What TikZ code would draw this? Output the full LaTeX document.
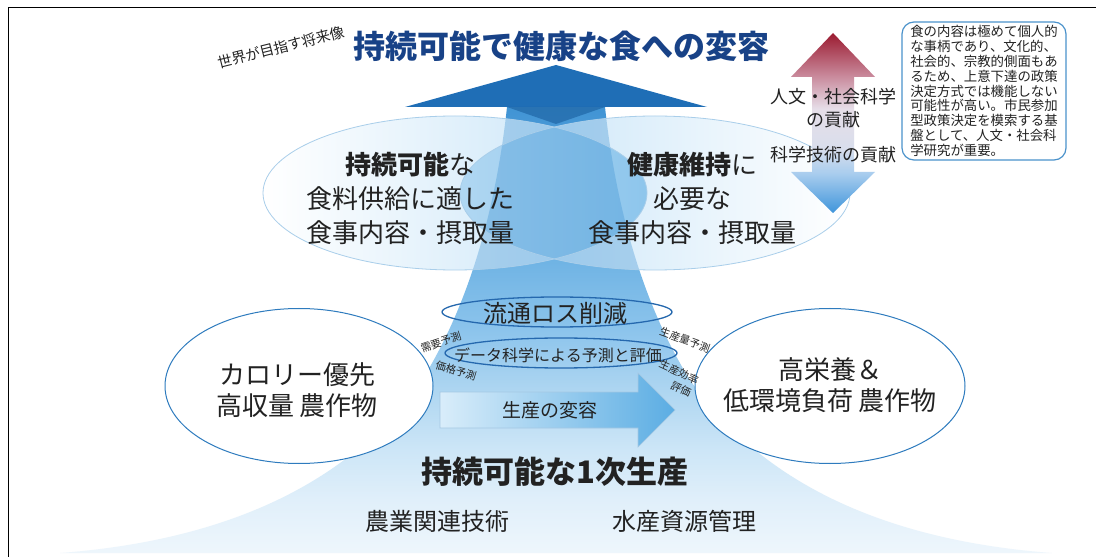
\documentclass[tikz,border=0pt]{standalone}
\usepackage{fontspec}
\setmainfont{Noto Sans CJK JP}
\usetikzlibrary{shapes.geometric}
\definecolor{txt}{HTML}{222222}
\definecolor{navy}{RGB}{24,66,135}
\definecolor{headblue}{HTML}{1F6EB6}
\definecolor{headdark}{HTML}{195E9E}
\definecolor{ellL}{HTML}{C3E2F7}
\definecolor{lensblue}{HTML}{8CC5EC}
\definecolor{lensedge}{HTML}{B0D7F2}
\definecolor{shaftblue}{HTML}{3F93D4}
\definecolor{ellline}{HTML}{A9CEEA}
\definecolor{v0}{HTML}{EEF6FC}
\definecolor{v1}{HTML}{E0EFFA}
\definecolor{v2}{HTML}{CDE6F7}
\definecolor{v3}{HTML}{B4D9F2}
\definecolor{v4}{HTML}{8CC4EC}
\definecolor{v5}{HTML}{6BB1E3}
\definecolor{v6}{HTML}{4194D4}
\definecolor{lowline}{HTML}{2E7BBE}
\definecolor{smallline}{HTML}{2568AE}
\definecolor{arrL}{HTML}{D9EDFA}
\definecolor{arrR}{HTML}{5BADE3}
\definecolor{arrLine}{HTML}{A5C8E3}
\definecolor{dred}{HTML}{9B1B30}
\definecolor{r2}{HTML}{C98A9C}
\definecolor{lav}{HTML}{E6DEE8}
\definecolor{b3}{HTML}{D9DEEC}
\definecolor{b2}{HTML}{A9CDEE}
\definecolor{dblue}{HTML}{3F95DB}
\definecolor{noteline}{HTML}{4B92CB}
\pgfdeclareverticalshading{mntv}{100bp}{color(0bp)=(v0); color(25bp)=(v0); color(31bp)=(v1); color(36.5bp)=(v2); color(42bp)=(v3); color(50bp)=(v4); color(59bp)=(v5); color(75bp)=(v6); color(100bp)=(v6)}
\pgfdeclareverticalshading{dbl}{100bp}{color(0bp)=(dblue); color(25bp)=(dblue); color(36bp)=(b2); color(43bp)=(b3); color(54bp)=(lav); color(63bp)=(r2); color(75bp)=(dred); color(100bp)=(dred)}
\tikzset{
  lbl/.style={font=\fontsize{10.5bp}{12bp}\selectfont, text=txt, align=center},
  bigtxt/.style={font=\fontsize{26bp}{34bp}\selectfont, text=txt, align=center},
  lowtxt/.style={font=\fontsize{26bp}{31bp}\selectfont, text=txt, align=center},
  lowell/.style={draw=lowline, line width=1bp, fill=white},
  smallell/.style={draw=smallline, line width=1.3bp},
  topell/.style={draw=ellline, line width=0.8bp},
}
\def\mountainpath{(60,553) .. controls (232,540) and (352,480) .. (422,380) .. controls (472,300) and (497,200) .. (507,107) -- (605,107) .. controls (615,200) and (640,300) .. (690,380) .. controls (760,480) and (880,540) .. (1052,553) -- cycle}
\begin{document}
\begin{tikzpicture}[x=1bp,y=-1bp, every node/.style={inner sep=0pt}]
\useasboundingbox (0,0) rectangle (1096,557);
\fill[white] (0,0) rectangle (1096,557);
% frame
\draw[line width=1bp, black] (8,557) -- (8,8) -- (1096,8);
% mountain and shaft
\path[shading=mntv] \mountainpath;
% arrow head
\fill[headblue] (405,107) -- (556,65) -- (707,107) -- cycle;
\fill[headdark, opacity=0.6] (507,107) -- (556,124) -- (605,107) -- cycle;
% top ellipses
\path[left color=white, right color=ellL] (455,193) ellipse [x radius=192, y radius=77];
\path[left color=ellL, right color=white] (655,193) ellipse [x radius=195, y radius=77];
\begin{scope}
  \clip (455,193) ellipse [x radius=192, y radius=77];
  \path[left color=lensedge, right color=lensedge, middle color=lensblue] (655,193) ellipse [x radius=195, y radius=77];
\end{scope}
\begin{scope}
  \clip (455,193) ellipse [x radius=192, y radius=77] (655,193) ellipse [x radius=195, y radius=77];
  \fill[shaftblue, opacity=0.35] \mountainpath;
\end{scope}
\draw[topell] (455,193) ellipse [x radius=192, y radius=77];
\draw[topell] (655,193) ellipse [x radius=195, y radius=77];
% title
\node[font=\fontsize{32bp}{36bp}\selectfont\bfseries, text=navy] (title) at (561,46) {持続可能で健康な食への変容};
\node[font=\fontsize{14.5bp}{16bp}\selectfont, text=txt, rotate=14] (future) at (281,47) {世界が目指す将来像};
% top ellipse texts
\node[bigtxt] (sustdiet) at (410,198) {{\bfseries 持続可能}な\\食料供給に適した\\食事内容・摂取量};
\node[bigtxt] (healthdiet) at (692,198) {{\bfseries 健康維持}に\\必要な\\食事内容・摂取量};
% double arrow
\path[shading=dbl] (833,33) -- (875,77) -- (854,77) -- (854,172) -- (875,172) -- (833,213) -- (791,172) -- (812,172) -- (812,77) -- (791,77) -- cycle;
\node[font=\fontsize{18bp}{23bp}\selectfont, text=txt, align=center] (hum) at (833,108) {人文・社会科学\\の貢献};
\node[font=\fontsize{18bp}{23bp}\selectfont, text=txt] (sci) at (833,155) {科学技術の貢献};
% note
\node[draw=noteline, line width=1.2bp, rounded corners=12bp, fill=white, minimum width=164bp, minimum height=138bp, align=left, text=txt, font=\fontsize{13.4bp}{14.8bp}\selectfont] (note) at (984,91) {食の内容は極めて個人的\\な事柄であり、文化的、\\社会的、宗教的側面もあ\\るため、上意下達の政策\\決定方式では機能しない\\可能性が高い。市民参加\\型政策決定を模索する基\\盤として、人文・社会科\\学研究が重要。};
% lower ellipses
\draw[lowell] (299,386) ellipse [x radius=134, y radius=77.5];
\draw[lowell] (830,386) ellipse [x radius=135, y radius=77.5];
\node[lowtxt] (calorie) at (297,390) {カロリー優先\\高収量 農作物};
\node[lowtxt] (nutri) at (830,385) {高栄養＆\\低環境負荷 農作物};
% small ellipses
\draw[smallell] (557,312) ellipse [x radius=115, y radius=15];
\draw[smallell] (561,353) ellipse [x radius=116, y radius=15];
\node[font=\fontsize{24bp}{26bp}\selectfont, text=txt] (loss) at (555,313) {流通ロス削減};
\node[font=\fontsize{16bp}{18bp}\selectfont, text=txt] (data) at (558,355) {データ科学による予測と評価};
% production arrow
\path[left color=arrL, right color=arrR, draw=arrLine, line width=0.6bp] (440,392) -- (638,392) -- (638,373) -- (675,410) -- (638,447) -- (638,428) -- (440,428) -- cycle;
\node[font=\fontsize{19bp}{21bp}\selectfont, text=txt] (prod) at (550,410) {生産の変容};
% small labels
\node[lbl, rotate=18] (demand) at (441,342) {需要予測};
\node[lbl, rotate=-17] (price) at (456,371) {価格予測};
\node[lbl, rotate=-20] (yield) at (685,340) {生産量予測};
\node[lbl, rotate=-25] (eff) at (679,372) {生産効率};
\node[lbl, rotate=-25] (evalu) at (681,389) {評価};
% bottom texts
\node[font=\fontsize{31bp}{34bp}\selectfont\bfseries, text=txt] (primary) at (555,472) {持続可能な1次生産};
\node[font=\fontsize{24bp}{26bp}\selectfont, text=txt] (agri) at (437,521) {農業関連技術};
\node[font=\fontsize{24bp}{26bp}\selectfont, text=txt] (fish) at (684,521) {水産資源管理};
\end{tikzpicture}
\end{document}
